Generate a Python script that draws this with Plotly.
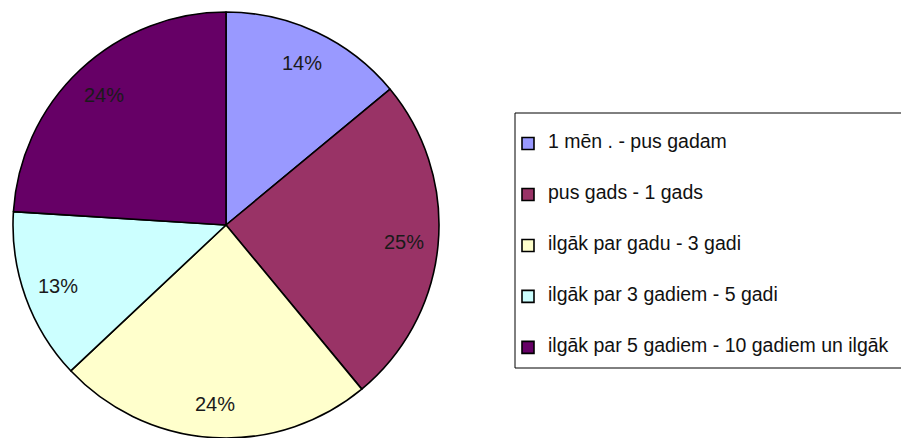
import math
import plotly.graph_objects as go

labels = [
    "1 mēn . - pus gadam",
    "pus gads - 1 gads",
    "ilgāk par gadu - 3 gadi",
    "ilgāk par 3 gadiem - 5 gadi",
    "ilgāk par 5 gadiem - 10 gadiem un ilgāk",
]
values = [14, 25, 24, 13, 24]
colors = ["#9999FF", "#993366", "#FFFFCC", "#CCFFFF", "#660066"]

W, H = 901, 438
FONT = "Liberation Sans, Arial, sans-serif"

# pie domain (paper fractions)
dom_x = [11 / W, 441 / W]
dom_y = [0, 426 / H]

legend_labels = ["<br><span style='font-size:19.5px'>%s</span><br> " % l for l in labels]

fig = go.Figure(
    go.Pie(
        labels=legend_labels,
        values=values,
        sort=False,
        direction="clockwise",
        rotation=0,
        marker=dict(colors=colors, line=dict(color="#000000", width=1.6)),
        textinfo="none",
        domain=dict(x=dom_x, y=dom_y),
        hoverinfo="percent",
    )
)

# percentage labels placed at the mid-angle of each slice
total = sum(values)
cx_px = (dom_x[0] + dom_x[1]) / 2 * W
cy_px = (1 - (dom_y[0] + dom_y[1]) / 2) * H
R = min((dom_x[1] - dom_x[0]) * W, (dom_y[1] - dom_y[0]) * H) / 2
label_r = 0.84 * R
cum = 0
for v in values:
    mid = (cum + v / 2) / total * 2 * math.pi
    cum += v
    px = cx_px + label_r * math.sin(mid)
    py = cy_px - label_r * math.cos(mid)
    fig.add_annotation(
        x=px / W, y=1 - py / H, xref="paper", yref="paper",
        text="%d%%" % round(v / total * 100), showarrow=False,
        xanchor="center", yanchor="middle",
        font=dict(family=FONT, size=20, color="#1a1a1a"),
    )

# legend frame
fig.add_shape(
    type="rect", xref="paper", yref="paper",
    x0=515 / W, x1=1.02, y0=1 - 368 / H, y1=1 - 113 / H,
    line=dict(color="#000000", width=1), fillcolor="rgba(0,0,0,0)",
)

fig.update_layout(
    width=W,
    height=H,
    margin=dict(l=0, r=0, t=0, b=0),
    paper_bgcolor="#FFFFFF",
    plot_bgcolor="#FFFFFF",
    font=dict(family=FONT, color="#000000"),
    showlegend=True,
    legend=dict(
        x=508 / W,
        xanchor="left",
        y=1 - 113 / H,
        yanchor="top",
        bgcolor="rgba(0,0,0,0)",
        borderwidth=0,
        font=dict(size=12.3, color="#111111"),
        itemclick=False,
        itemdoubleclick=False,
    ),
)

fig.write_html(
    "out.html",
    config={"displayModeBar": False},
    post_script="document.body.style.margin='0';document.body.style.overflow='hidden';",
)
